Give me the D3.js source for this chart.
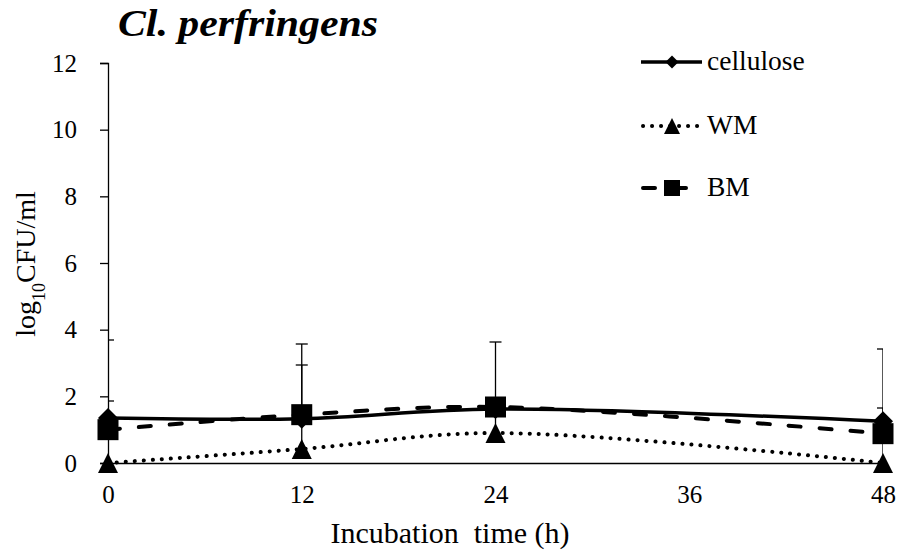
<!DOCTYPE html>
<html>
<head>
<meta charset="utf-8">
<script src="https://cdn.jsdelivr.net/npm/d3@7"></script>
<style>
  html, body { margin: 0; padding: 0; background: #fff; }
  svg { display: block; }
  text { font-family: "Liberation Serif", "Times New Roman", serif; fill: #000; }
</style>
</head>
<body>
<svg id="chart" width="900" height="558"></svg>
<script>
// ---- data ----
const times = [0, 12, 24, 48];
const xTicks = [0, 12, 24, 36, 48];
const yTicks = [0, 2, 4, 6, 8, 10, 12];
const seriesNames = ["cellulose", "WM", "BM"];
const cellulose = [1.35, 1.33, 1.62, 1.25];
const celluloseSD = [0.51, 1.61, 0.2, 0.40];
const wm = [0.0, 0.42, 0.90, 0.0];
const wmSD = [1.0, 1.0, 0.8, 0.9];
const bm = [1.0, 1.45, 1.68, 0.88];
const bmSD = [2.69, 2.12, 1.95, 2.54];
const titleText = "Cl. perfringens";
const xLabel = "Incubation  time (h)";

// ---- layout ----
const svg = d3.select("#chart");
const mLeft = 108, mRight = 883, mTop = 63, mBottom = 463;
const x = d3.scaleLinear().domain([0, 48]).range([mLeft, mRight]);
const y = d3.scaleLinear().domain([0, 12]).range([mBottom, mTop]);

const styles = {
  cellulose: { dash: null, width: 3.5, cap: "butt", marker: "diamond" },
  WM: { dash: "0.1 8.9", width: 4, cap: "round", marker: "triangle" },
  BM: { dash: "12 19", width: 4, cap: "round", marker: "square" }
};
const series = [
  { name: "cellulose", values: cellulose, sd: celluloseSD },
  { name: "WM", values: wm, sd: wmSD },
  { name: "BM", values: bm, sd: bmSD }
];

// clip for error bars
svg.append("defs").append("clipPath").attr("id", "plotclip")
  .append("rect").attr("x", mLeft).attr("y", 0).attr("width", mRight - mLeft).attr("height", mBottom);

// axes
const yAxis = d3.axisLeft(y).tickValues(yTicks).tickSize(8).tickPadding(23).tickFormat(d3.format("d"));
const gy = svg.append("g").attr("transform", `translate(${mLeft},0)`).call(yAxis);
gy.select(".domain").attr("stroke", "#000").attr("stroke-width", 1.3);
gy.selectAll(".tick line").attr("stroke", "#000").attr("stroke-width", 1.3);
gy.selectAll(".tick text").style("font-size", "25px").style("font-family", "Liberation Serif").attr("fill", "#000");

const xAxis = d3.axisBottom(x).tickValues(xTicks).tickSize(0).tickPadding(22).tickFormat(d3.format("d"));
const gx = svg.append("g").attr("transform", `translate(0,${mBottom})`).call(xAxis);
gx.select(".domain").attr("stroke", "#000").attr("stroke-width", 1.3);
gx.selectAll(".tick text").style("font-size", "25px").style("font-family", "Liberation Serif").attr("fill", "#000");

// error bars
const eb = svg.append("g").attr("clip-path", "url(#plotclip)");
series.forEach(s => {
  s.values.forEach((v, i) => {
    const xi = x(times[i]);
    eb.append("line").attr("x1", xi).attr("x2", xi)
      .attr("y1", y(v)).attr("y2", y(v + s.sd[i]))
      .attr("stroke", "#000").attr("stroke-width", 1.3);
    eb.append("line").attr("x1", xi - 6).attr("x2", xi + 6)
      .attr("y1", y(v + s.sd[i])).attr("y2", y(v + s.sd[i]))
      .attr("stroke", "#000").attr("stroke-width", 1.3);
  });
});

// lines
const line = d3.line().x((d, i) => x(times[i])).y(d => y(d)).curve(d3.curveCatmullRom.alpha(0.5));
series.forEach(s => {
  const st = styles[s.name];
  svg.append("path").datum(s.values).attr("d", line)
    .attr("fill", "none").attr("stroke", "#000")
    .attr("stroke-width", st.width).attr("stroke-linecap", st.cap)
    .attr("stroke-dasharray", st.dash);
});

// markers
function drawMarker(g, type, cx, cy, size) {
  const h = size / 2;
  if (type === "diamond") {
    g.append("path").attr("d", `M${cx},${cy - h}L${cx + h},${cy}L${cx},${cy + h}L${cx - h},${cy}Z`).attr("fill", "#000");
  } else if (type === "triangle") {
    g.append("path").attr("d", `M${cx},${cy - h}L${cx + h},${cy + h}L${cx - h},${cy + h}Z`).attr("fill", "#000");
  } else {
    g.append("rect").attr("x", cx - h).attr("y", cy - h).attr("width", size).attr("height", size).attr("fill", "#000");
  }
}
const mg = svg.append("g");
const plotSizes = { diamond: 20, triangle: 20, square: 21 };
series.forEach(s => {
  const st = styles[s.name];
  s.values.forEach((v, i) => drawMarker(mg, st.marker, x(times[i]), y(v), plotSizes[st.marker]));
});

// legend
const lg = svg.append("g");
const legRows = [
  { name: seriesNames[0], y: 62, x1: 641, x2: 702, size: 13 },
  { name: seriesNames[1], y: 126, x1: 643, x2: 700, size: 16 },
  { name: seriesNames[2], y: 188, x1: 643, x2: 687, size: 16 }
];
legRows.forEach(r => {
  const st = styles[r.name];
  lg.append("line").attr("x1", r.x1).attr("x2", r.x2).attr("y1", r.y).attr("y2", r.y)
    .attr("stroke", "#000").attr("stroke-width", st.width).attr("stroke-linecap", st.cap)
    .attr("stroke-dasharray", st.dash);
  drawMarker(lg, st.marker, 672, r.y, r.size);
  lg.append("text").attr("x", 707).attr("y", r.y + 8).style("font-size", "27.5px").text(r.name);
});

// title
svg.append("text").attr("x", 118).attr("y", 36)
  .style("font-size", "38px").style("font-weight", "bold").style("font-style", "italic")
  .attr("textLength", 260).attr("lengthAdjust", "spacingAndGlyphs")
  .text(titleText);

// y label
const yl = svg.append("text").attr("transform", "translate(35,264) rotate(-90)")
  .attr("text-anchor", "middle").style("font-size", "28px");
yl.append("tspan").text("log");
yl.append("tspan").attr("baseline-shift", "sub").style("font-size", "18px").text("10");
yl.append("tspan").text("CFU/ml");

// x label
svg.append("text").attr("x", 450).attr("y", 543).attr("text-anchor", "middle")
  .style("font-size", "30px").style("white-space", "pre").attr("xml:space", "preserve").text(xLabel);
</script>
</body>
</html>
